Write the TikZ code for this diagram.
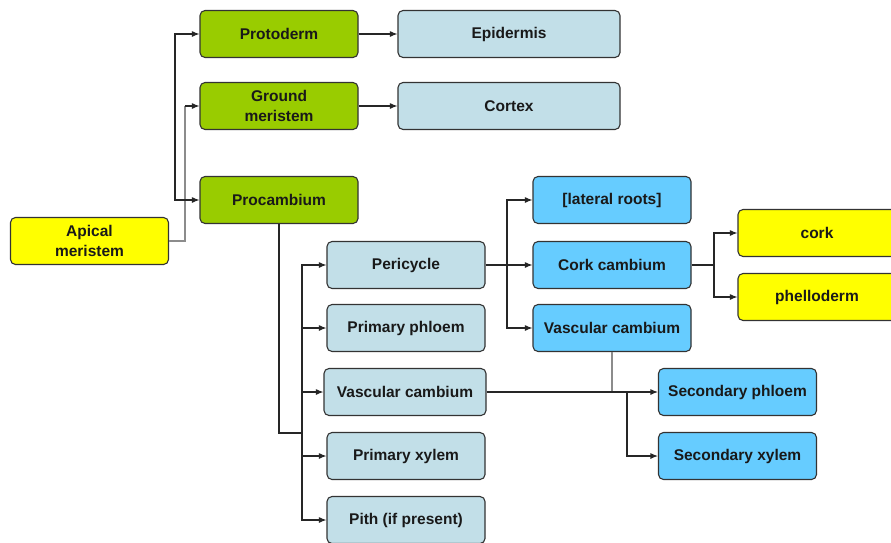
\documentclass[tikz,border=0pt]{standalone}
\usepackage{fontspec}
\setmainfont{Liberation Sans}
\usetikzlibrary{arrows.meta}
\definecolor{gfill}{HTML}{99CC00}
\definecolor{yfill}{HTML}{FFFF00}
\definecolor{lbfill}{HTML}{C2DFE8}
\definecolor{bfill}{HTML}{66CCFF}
\definecolor{edge}{HTML}{333333}
\tikzset{
  box/.style={draw=edge, line width=1.1pt, rounded corners=5pt, minimum width=158pt,
    minimum height=47pt, align=center, inner sep=1pt,
    font=\bfseries\fontsize{15.5}{20.5}\selectfont, text=black!90},
  gbox/.style={box, fill=gfill},
  ybox/.style={box, fill=yfill},
  lbox/.style={box, fill=lbfill},
  bbox/.style={box, fill=bfill},
  conn/.style={line width=1.1pt, draw=black!85},
  arr/.style={conn, -{Latex[length=7.5pt,width=6pt]}},
  gconn/.style={line width=1.1pt, draw=black!45},
}
\begin{document}
\begin{tikzpicture}[x=1pt,y=-1pt]
\useasboundingbox (0,0) rectangle (891,542);
\clip (0,0) rectangle (891,542);
\fill[white] (0,0) rectangle (891,542);
% nodes
\node[ybox] (apical) at (89.5,241) {Apical\\meristem};
\node[gbox] (proto) at (279,34) {Protoderm};
\node[gbox] (ground) at (279,106) {Ground\\meristem};
\node[gbox] (procam) at (279,200) {Procambium};
\node[lbox, minimum width=222pt] (epid) at (509,34) {Epidermis};
\node[lbox, minimum width=222pt] (cortex) at (509,106) {Cortex};
\node[bbox] (lateral) at (612,200) {[lateral roots]};
\node[bbox] (corkcam) at (612,265) {Cork cambium};
\node[bbox] (vascb) at (612,328) {Vascular cambium};
\node[lbox] (peri) at (406,265) {Pericycle};
\node[lbox] (pphl) at (406,328) {Primary phloem};
\node[lbox, minimum width=162pt] (vascl) at (405,392) {Vascular cambium};
\node[lbox] (pxyl) at (406,456) {Primary xylem};
\node[lbox] (pith) at (406,520) {Pith (if present)};
\node[bbox] (sphl) at (737.5,392) {Secondary phloem};
\node[bbox] (sxyl) at (737.5,456) {Secondary xylem};
\node[ybox] (cork) at (817,233) {cork};
\node[ybox] (phell) at (817,297) {phelloderm};
% junctions
\coordinate (ja) at (185,241);
\coordinate (jb) at (175,120);
\coordinate (jc) at (302,433);
\coordinate (jd) at (507,265);
\coordinate (je) at (714,265);
\coordinate (jf) at (627,392);
% connectors
\draw[gconn] (apical.east) -- (ja) -- (ja |- ground.west);
\draw[arr] (ja |- ground.west) -- (ground.west);
\draw[arr] (jb) |- (proto.west);
\draw[arr] (jb) |- (procam.west);
\draw[arr] (proto.east) -- (epid.west);
\draw[arr] (ground.east) -- (cortex.west);
\draw[conn] (procam.south) |- (jc);
\draw[arr] (jc) |- (peri.west);
\draw[arr] (jc) |- (pphl.west);
\draw[arr] (jc) |- (vascl.west);
\draw[arr] (jc) |- (pxyl.west);
\draw[arr] (jc) |- (pith.west);
\draw[arr] (peri.east) -- (corkcam.west);
\draw[arr] (jd) |- (lateral.west);
\draw[arr] (jd) |- (vascb.west);
\draw[conn] (corkcam.east) -- (je);
\draw[arr] (je) |- (cork.west);
\draw[arr] (je) |- (phell.west);
\draw[gconn] (vascb.south) -- (vascb.south |- vascl.east);
\draw[arr] (vascl.east) -- (sphl.west);
\draw[arr] (jf) |- (sxyl.west);
\end{tikzpicture}
\end{document}
